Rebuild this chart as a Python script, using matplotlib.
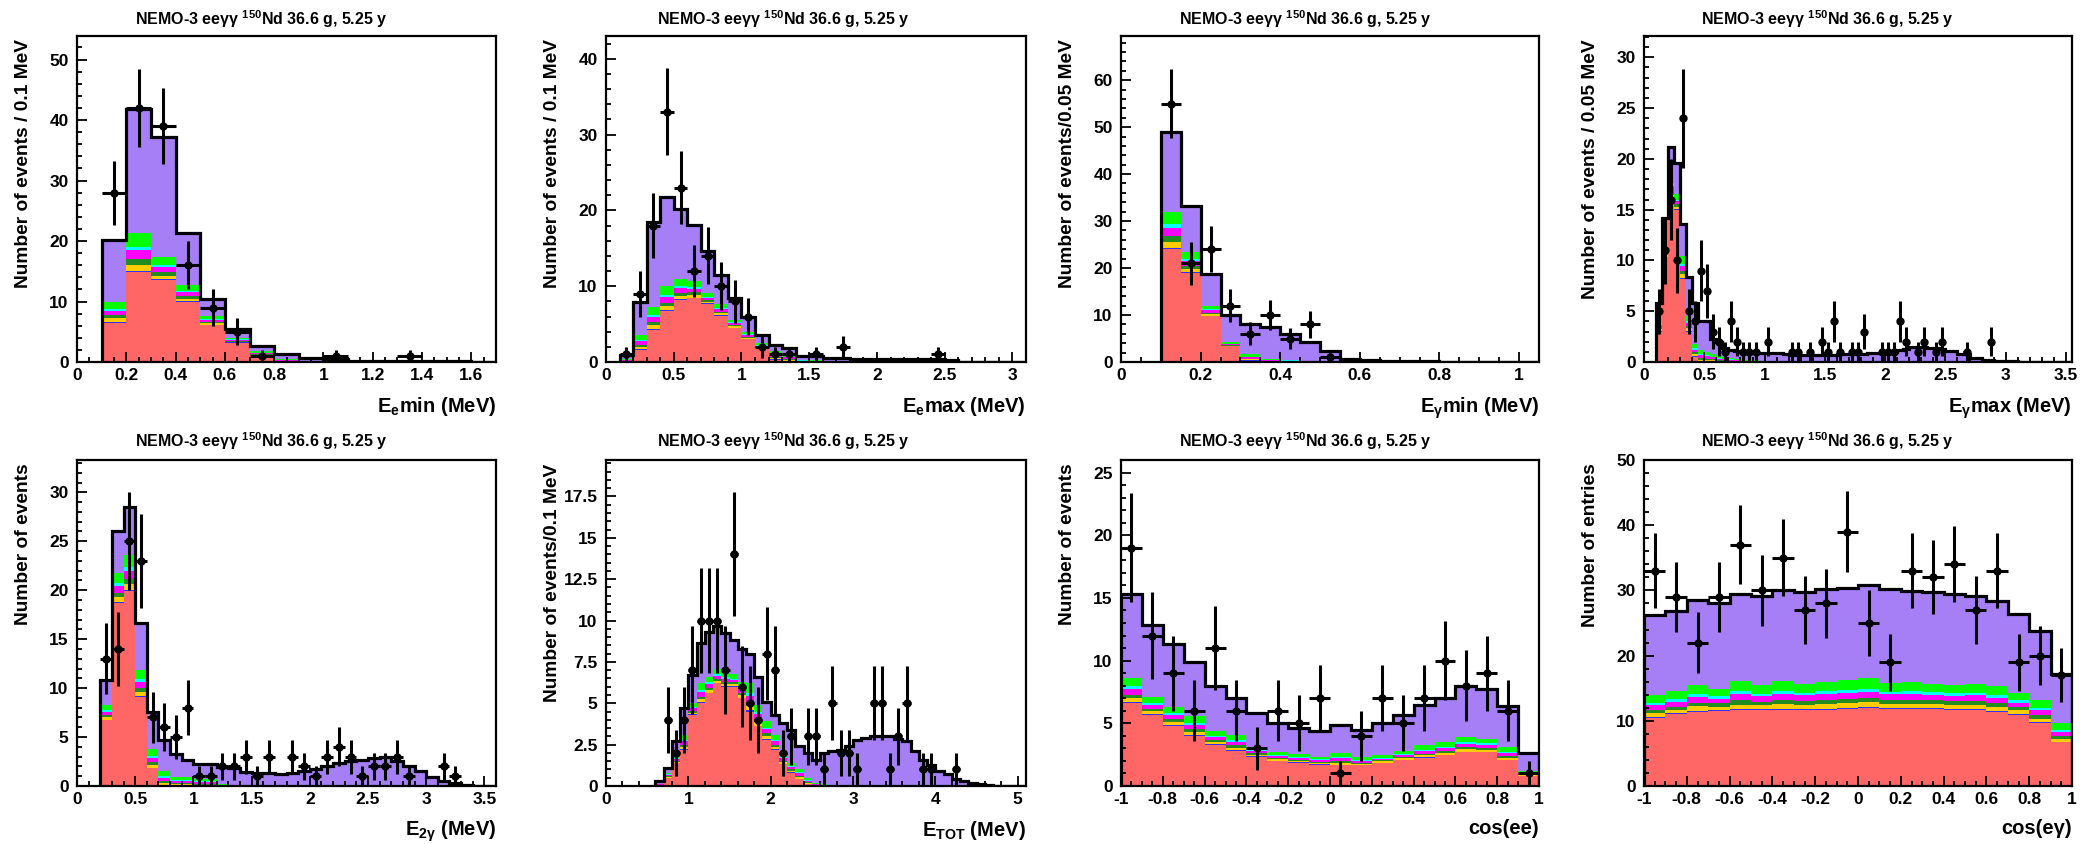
import numpy as np
import matplotlib
matplotlib.use("Agg")
import matplotlib.pyplot as plt
from matplotlib.ticker import MultipleLocator, FuncFormatter

plt.rcParams['font.family'] = 'Liberation Sans'
plt.rcParams['font.weight'] = 'bold'
plt.rcParams['mathtext.fontset'] = 'custom'
plt.rcParams['mathtext.rm'] = 'Liberation Sans:bold'
plt.rcParams['mathtext.bf'] = 'Liberation Sans:bold'
plt.rcParams['mathtext.it'] = 'Liberation Sans:bold'
plt.rcParams['mathtext.default'] = 'rm'
plt.rcParams['axes.unicode_minus'] = False

title = "NEMO-3 eeγγ $^{150}$Nd 36.6 g, 5.25 y"

# ---- E_e min : bins of 0.1 MeV from 0.1
emin_red = [6.5, 14.8, 13.5, 9.9, 6.1, 3.2, 1.0, 0.1, 0, 0, 0, 0, 0, 0, 0, 0]
emin_mid = [3.5, 6.5, 3.9, 2.9, 1.5, 0.8, 0.8, 0.4, 0.2, 0.1, 0, 0, 0, 0, 0, 0]
emin_tot = [20.2, 41.9, 37.2, 21.3, 10.4, 5.4, 2.7, 1.3, 0.6, 0.5, 0.15, 0.15, 0.15, 0.1, 0.1, 0.05]
emin_dat = [28, 42, 39, 16, 9, 5, 1, 0, 0, 1, 0, 0, 1, 0, 0, 0]

# ---- E_e max : bins of 0.1 MeV from 0.1
emax_red = [0.05, 1.6, 4.2, 6.7, 8.2, 8.4, 7.7, 6.1, 4.5, 3.0, 1.7, 0.3, 0.1, 0, 0,
            0, 0, 0, 0, 0, 0, 0, 0, 0, 0, 0, 0, 0, 0, 0]
emax_mid = [0.3, 2.0, 3.1, 3.3, 2.7, 2.3, 1.4, 1.5, 1.1, 1.0, 0.8, 1.1, 0.9, 0.3, 0.2,
            0.1, 0.05, 0, 0, 0, 0, 0, 0, 0, 0, 0, 0, 0, 0, 0]
emax_tot = [0.9, 7.9, 18.5, 21.8, 20.2, 18.1, 14.7, 11.5, 8.4, 5.9, 3.6, 2.2, 1.8, 0.8, 0.8,
            0.5, 0.5, 0.45, 0.45, 0.45, 0.45, 0.4, 0.4, 0.4, 0.2, 0.05, 0, 0, 0, 0]
emax_dat = [1, 9, 18, 33, 23, 12, 14, 10, 8, 6, 2, 1, 1, 0, 1,
            0, 2, 0, 0, 0, 0, 0, 0, 1, 0, 0, 0, 0, 0, 0]

# ---- E_gamma min : bins of 0.05 MeV from 0.1
gmin_red = [24.0, 18.9, 9.7, 3.3, 0.3, 0, 0, 0, 0, 0, 0, 0, 0, 0, 0, 0, 0, 0, 0]
gmin_mid = [8.0, 4.6, 2.3, 0.9, 1.3, 0.7, 0.5, 0.3, 0.1, 0, 0, 0, 0, 0, 0, 0, 0, 0, 0]
gmin_tot = [49.0, 33.2, 18.7, 10.1, 8.1, 7.4, 6.0, 4.2, 2.3, 0.7, 0.35, 0.3, 0.2, 0.15, 0.1,
            0.05, 0.05, 0.05, 0]
gmin_dat = [55, 21, 24, 12, 6, 10, 5, 8, 1, 0, 0, 0, 0, 0, 0, 0, 0, 0, 0]

# ---- E_gamma max : bins of 0.05 MeV from 0.1
gmax_red = [3.0, 10.3, 16.0, 15.0, 8.2, 3.0, 0.5] + [0] * 62
gmax_mid = [1.1, 1.4, 2.4, 1.5, 2.2, 1.5, 1.3, 1.2, 1.0, 0.8, 0.6, 0.5, 0.4, 0.3, 0.2,
            0.2, 0.15, 0.1, 0.1, 0.05] + [0] * 49
gmax_tot = [5.8, 14.2, 21.2, 19.6, 13.6, 8.4, 5.8, 4.0, 4.0, 2.3, 2.0, 1.4, 1.2, 1.05,
            0.95, 0.9, 0.9, 0.9, 0.9, 0.9, 0.85, 0.8,
            0.7, 0.65, 0.65, 0.65, 0.65, 0.65, 0.65, 0.7,
            0.75, 0.75, 0.8, 0.8, 0.8, 0.85, 0.85, 0.9,
            0.9, 0.95, 1.2, 1.3, 1.5, 1.5, 1.45, 1.4, 1.4, 1.3, 1.1, 1.05, 0.8, 0.8,
            0.4, 0.4, 0.2, 0.2, 0.1, 0.1, 0.05, 0.05, 0.03, 0.03, 0.02, 0.02, 0.02,
            0.01, 0.01, 0.01, 0.01]
gmax_dat = [5, 11, 16, 10, 24, 5, 4, 9, 7, 3, 2, 1, 4, 2, 1, 1, 1, 0, 2, 0,
            0, 0, 1, 1, 0, 1, 0, 2, 1, 4, 1, 0, 1, 1, 3, 0, 0, 1, 1, 1,
            4, 2, 0, 1, 2, 0, 1, 2, 0, 0, 0, 1, 0, 0, 0, 2, 0, 0, 0, 0,
            0, 0, 0, 0, 0, 0, 0, 0, 0]

# ---- E_2gamma : bins of 0.1 MeV from 0.2
e2g_red = [6.7, 18.7, 19.9, 9.1, 1.8] + [0] * 29
e2g_mid = [1.6, 3.1, 3.7, 2.7, 1.95, 1.5, 0.95, 0.9, 0.7, 0.7, 0.2, 0.15, 0.05] + [0] * 21
e2g_tot = [10.8, 26.0, 28.5, 16.7, 7.6, 4.7, 3.3, 2.65, 2.2, 2.2, 1.9, 1.8, 1.45, 1.3,
           1.35, 1.25, 1.35, 1.5, 1.7, 2.0, 2.4, 2.6, 2.65, 2.9, 3.0, 2.6, 2.0, 1.55,
           0.95, 0.55, 0.3, 0.1, 0.05, 0]
e2g_dat = [13, 14, 25, 23, 7, 6, 5, 8, 1, 1, 2, 2, 3, 1, 3, 0, 3, 2, 1, 3, 4, 3, 1, 2,
           2, 3, 1, 0, 0, 2, 1, 0, 0, 0]

# ---- E_TOT : bins of 0.1 MeV from 0.6
etot_red = [0.05, 0.5, 1.4, 2.2, 4.3, 5.0, 5.6, 6.2, 6.0, 6.0, 5.3, 4.5, 3.6, 2.8, 2.2,
            1.3, 0.8, 0.4, 0.1] + [0] * 26
etot_mid = [0.1, 0.3, 0.4, 0.9, 0.7, 1.2, 1.0, 0.85, 0.85, 0.75, 1.0, 1.7, 1.3, 1.1, 0.9,
            0.7, 0.6, 0.65, 0.4, 0.2, 0.1] + [0] * 24
etot_tot = [0.3, 1.1, 2.7, 4.7, 6.7, 8.65, 9.3, 9.65, 9.25, 8.8, 8.25, 7.95, 6.6, 5.1,
            4.3, 3.8, 3.4, 2.4, 2.0, 1.6, 2.0, 2.1, 2.2, 2.4, 2.75, 2.9, 3.05, 3.05,
            3.0, 2.85, 2.7, 2.1, 1.6, 1.25, 0.9, 0.7, 0.45, 0.3, 0.2, 0.1, 0.05,
            0, 0, 0, 0]
etot_dat = [0, 4, 2, 4, 7, 10, 10, 10, 7, 14, 6, 5, 4, 8, 7, 2, 3, 0, 3, 3, 1, 5, 2,
            2, 1, 0, 5, 5, 1, 3, 5, 0, 1, 1, 0, 0, 1, 0, 0, 0, 0, 0, 0, 0, 0]

# ---- cos(ee) : bins of 0.1 from -1
cee_red = [6.6, 5.7, 4.8, 4.0, 3.3, 2.8, 2.35, 2.0, 1.85, 1.7, 1.65, 1.65, 1.85, 2.05,
           2.25, 2.45, 2.7, 2.7, 2.05, 0.8]
cee_mid = [2.05, 1.4, 1.5, 1.55, 1.1, 1.3, 0.75, 0.7, 0.7, 0.65, 1.0, 0.65, 0.6, 0.75,
           1.0, 1.05, 1.2, 1.05, 1.05, 0.4]
cee_tot = [15.3, 12.85, 11.3, 9.9, 7.95, 7.0, 5.85, 5.05, 4.65, 4.4, 4.85, 4.5, 5.0, 5.7,
           6.5, 7.0, 8.0, 7.75, 6.4, 2.6]
cee_dat = [19, 12, 9, 6, 11, 6, 3, 6, 5, 7, 1, 4, 7, 5, 7, 10, 8, 9, 6, 1]

# ---- cos(e gamma) : bins of 0.1 from -1
ceg_red = [10.5, 11.0, 11.4, 11.5, 11.6, 11.6, 11.7, 11.7, 11.7, 11.8, 11.9, 11.8, 11.8,
           11.8, 11.7, 11.6, 11.3, 10.9, 9.6, 6.7]
ceg_mid = [3.4, 3.5, 4.1, 3.4, 4.5, 3.9, 4.4, 4.0, 4.3, 4.5, 4.6, 4.0, 4.1, 3.9, 3.8,
           4.1, 4.0, 3.4, 3.6, 2.9]
ceg_tot = [26.3, 26.9, 28.5, 28.1, 29.5, 29.1, 30.0, 29.7, 30.2, 30.4, 30.9, 30.2, 29.9,
           29.7, 29.4, 29.1, 28.4, 26.4, 23.7, 17.2]
ceg_dat = [33, 29, 22, 29, 37, 30, 35, 27, 28, 39, 25, 19, 33, 32, 34, 27, 33, 19, 20, 17]

# thin background layers between the red and purple components (bottom to top)
mix_share = [0.04, 0.16, 0.14, 0.22, 0.10, 0.34]
mix_color = ['#3030ff', '#ffcc00', '#228b22', '#ff00ff', '#00ffff', '#00ff00']
red_c = '#ff6666'
purple_c = '#a67ff6'

panels = [
    dict(lo=0.1, w=0.1, red=emin_red, mid=emin_mid, tot=emin_tot, dat=emin_dat,
         xlim=(0, 1.7), ylim=(0, 53.9), xt=(0.2, 0.05), yt=(10, 2),
         xl="E$_{e}$min (MeV)", yl="Number of events / 0.1 MeV"),
    dict(lo=0.1, w=0.1, red=emax_red, mid=emax_mid, tot=emax_tot, dat=emax_dat,
         xlim=(0, 3.1), ylim=(0, 43.0), xt=(0.5, 0.1), yt=(10, 2),
         xl="E$_{e}$max (MeV)", yl="Number of events / 0.1 MeV"),
    dict(lo=0.1, w=0.05, red=gmin_red, mid=gmin_mid, tot=gmin_tot, dat=gmin_dat,
         xlim=(0, 1.05), ylim=(0, 69.4), xt=(0.2, 0.05), yt=(10, 2),
         xl="E$_{γ}$min (MeV)", yl="Number of events/0.05 MeV"),
    dict(lo=0.1, w=0.05, red=gmax_red, mid=gmax_mid, tot=gmax_tot, dat=gmax_dat,
         xlim=(0, 3.55), ylim=(0, 32.1), xt=(0.5, 0.1), yt=(5, 1),
         xl="E$_{γ}$max (MeV)", yl="Number of events / 0.05 MeV"),
    dict(lo=0.2, w=0.1, red=e2g_red, mid=e2g_mid, tot=e2g_tot, dat=e2g_dat,
         xlim=(0, 3.6), ylim=(0, 33.3), xt=(0.5, 0.1), yt=(5, 1),
         xl="E$_{2γ}$ (MeV)", yl="Number of events"),
    dict(lo=0.6, w=0.1, red=etot_red, mid=etot_mid, tot=etot_tot, dat=etot_dat,
         xlim=(0, 5.1), ylim=(0, 19.7), xt=(1, 0.2), yt=(2.5, 0.5),
         xl="E$_{TOT}$ (MeV)", yl="Number of events/0.1 MeV"),
    dict(lo=-1.0, w=0.1, red=cee_red, mid=cee_mid, tot=cee_tot, dat=cee_dat,
         xlim=(-1, 1), ylim=(0, 26.0), xt=(0.2, 0.05), yt=(5, 1),
         xl="cos(ee)", yl="Number of events"),
    dict(lo=-1.0, w=0.1, red=ceg_red, mid=ceg_mid, tot=ceg_tot, dat=ceg_dat,
         xlim=(-1, 1), ylim=(0, 50.0), xt=(0.2, 0.05), yt=(10, 2),
         xl="cos(eγ)", yl="Number of entries"),
]


def tick_fmt(v, pos):
    v = round(v, 6)
    if v == 0:
        return "0"
    return "%g" % v


W, H = 2088, 844
fig = plt.figure(figsize=(W / 100, H / 100), dpi=100)

lefts = [77, 606, 1121, 1644]
widths = [419, 420, 418, 428]
tops = [36, 460]
ax_h = 326
pad_centers = [261, 783, 1305, 1827]
title_y = [19, 441]

for i, p in enumerate(panels):
    r, c = divmod(i, 4)
    ax = fig.add_axes([lefts[c] / W, 1 - (tops[r] + ax_h) / H, widths[c] / W, ax_h / H])

    n = len(p['tot'])
    edges = p['lo'] + p['w'] * np.arange(n + 1)
    red = np.array(p['red'], float)
    mid = np.array(p['mid'], float)
    tot = np.array(p['tot'], float)

    ax.stairs(tot, edges, baseline=0, fill=True, color=purple_c, lw=0)
    ax.stairs(red, edges, baseline=0, fill=True, color=red_c, lw=0)
    base = red.copy()
    for share, col in zip(mix_share, mix_color):
        top = base + mid * share
        ax.stairs(top, edges, baseline=base, fill=True, color=col, lw=0)
        base = top
    ax.stairs(tot, edges, baseline=0, color='k', lw=2.3)

    d = np.array(p['dat'], float)
    m = d > 0
    xc = 0.5 * (edges[:-1] + edges[1:])
    ax.errorbar(xc[m], d[m], yerr=np.sqrt(d[m]), xerr=p['w'] / 2, fmt='o', ms=5,
                color='k', lw=2.2, capsize=0, zorder=5)

    ax.set_xlim(*p['xlim'])
    ax.set_ylim(*p['ylim'])
    ax.xaxis.set_major_locator(MultipleLocator(p['xt'][0]))
    ax.xaxis.set_minor_locator(MultipleLocator(p['xt'][1]))
    ax.yaxis.set_major_locator(MultipleLocator(p['yt'][0]))
    ax.yaxis.set_minor_locator(MultipleLocator(p['yt'][1]))
    ax.xaxis.set_major_formatter(FuncFormatter(tick_fmt))
    ax.yaxis.set_major_formatter(FuncFormatter(tick_fmt))
    ax.tick_params(which='both', direction='in', top=False, right=False, width=1.3,
                   labelsize=12.5)
    ax.tick_params(which='major', length=7.5)
    ax.tick_params(which='minor', length=3.8)
    ax.tick_params(axis='y', pad=6)
    ax.tick_params(axis='x', pad=4)
    for lab in ax.get_xticklabels() + ax.get_yticklabels():
        lab.set_fontweight('bold')
    for s in ax.spines.values():
        s.set_linewidth(1.6)

    ax.set_xlabel(p['xl'], fontsize=14.5, fontweight='bold', loc='right')
    ax.xaxis.set_label_coords(1.0, -33 / ax_h)
    ax.set_ylabel(p['yl'], fontsize=13.8, fontweight='bold', loc='top')
    ax.yaxis.set_label_coords(-45 / widths[c], 0.99)

    fig.text(pad_centers[c] / W, 1 - title_y[r] / H, title, ha='center', va='center',
             fontsize=11.5, fontweight='bold')

fig.savefig("out.png", dpi=100)
